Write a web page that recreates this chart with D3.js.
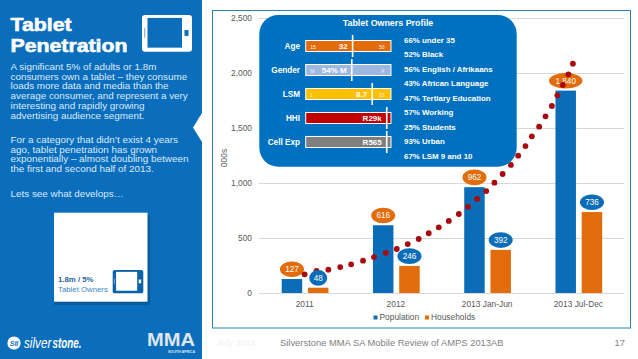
<!DOCTYPE html>
<html>
<head>
<meta charset="utf-8">
<script src="https://cdn.jsdelivr.net/npm/d3@7"></script>
<style>
 html, body { margin: 0; padding: 0; background: #fff; }
 svg { display: block; font-family: "Liberation Sans", Arial, sans-serif; }
 .grid line { stroke: #d9d9d9; stroke-width: 1; }
 .grid text { fill: #595959; font-size: 8.4px; }
</style>
</head>
<body>
<svg id="slide" width="638" height="359"></svg>
<script>
 // chart data
 const categories = ["2011", "2012", "2013 Jan-Jun", "2013 Jul-Dec"];
 const seriesNames = ["Population", "Households"];
 const population = [127, 616, 962, 1840];
 const households = [48, 246, 392, 736];
 const yTicks = [0, 500, 1000, 1500, 2000, 2500];

 // dotted trend, x is in category widths from the left of the plot
 const trendX = [0.50, 0.63, 0.76, 0.89, 1.01, 1.14, 1.26, 1.39, 1.51, 1.63, 1.75, 1.86, 1.97, 2.08, 2.19, 2.29,
                 2.39, 2.49, 2.58, 2.67, 2.76, 2.84, 2.92, 2.99, 3.07, 3.14, 3.21, 3.27, 3.33, 3.39, 3.44];
 const trendY = [170, 200, 212, 236, 261, 294, 327, 364, 400, 445, 491, 543, 597, 655, 718, 785,
                 855, 927, 1003, 1082, 1164, 1248, 1336, 1424, 1512, 1606, 1700, 1797, 1891, 1988, 2085];

 // profile box
 const profileRows = ["Age", "Gender", "LSM", "HHI", "Cell Exp"];
 const profileShare = [0.55, 0.54, 0.78, 0.95, 0.95];
 const profileMid = ["32", "54% M", "8.7", "R29k", "R565"];
 const profileLow = ["15", "M", "1", "", ""];
 const profileHigh = ["50", "F", "10", "", ""];
 const profileColors = ["#e36c0a", "#9db8e0", "#ffc000", "#c00000", "#7f7f7f"];
 const profileFacts = ["66% under 35", "52% Black", "56% English / Afrikaans", "43% African Language",
                       "47% Tertiary Education", "57% Working", "25% Students", "93% Urban", "67% LSM 9 and 10"];

 // side text
 const titleLines = ["Tablet", "Penetration"];
 const bodyOne = ["A significant 5% of adults or 1.8m", "consumers own a tablet \u2013 they consume",
                  "loads more data and media than the", "average consumer, and represent a very",
                  "interesting and rapidly growing", "advertising audience segment."];
 const bodyTwo = ["For a category that didn\u2019t exist 4 years", "ago, tablet penetration has grown",
                  "exponentially \u2013 almost doubling between", "the first and second half of 2013."];
 const bodyThree = ["Lets see what develops\u2026"];

 const blue = "#0b6db7";
 const orange = "#e36c0a";
 const sideBlue = "#0a6ebd";

 let svg = d3.select("svg#slide");

 // sidebar
 let side = svg.append("g").attr("id", "side");
 side.append("rect").attr("width", 202).attr("height", 359).attr("fill", sideBlue);
 side.append("path").attr("d", "M202,113L193,127.5L202,142Z").attr("fill", "#fff");

 side.selectAll("text.title").data(titleLines).join("text")
     .attr("class", "title")
     .attr("transform", (d, i) => `translate(10.5,${30.5 + i * 21.4}) scale(1.12,1)`)
     .attr("fill", "#fff")
     .attr("stroke", "#fff")
     .attr("stroke-width", 0.6)
     .style("font-weight", "bold")
     .style("font-size", "19px")
     .text(d => d);

 function bodyBlock(lines, top) {
     side.append("g").selectAll("text").data(lines).join("text")
         .attr("x", 10.5)
         .attr("y", (d, i) => top + i * 9.7)
         .attr("fill", "#dceafa")
         .style("font-size", "9.9px")
         .text(d => d);
 }
 bodyBlock(bodyOne, 70);
 bodyBlock(bodyTwo, 143);
 bodyBlock(bodyThree, 196.5);

 function drawTablet(g, x, y, w, h, body, screen) {
     let t = g.append("g").attr("transform", `translate(${x},${y})`);
     t.append("rect").attr("width", w).attr("height", h).attr("rx", w * 0.06).attr("fill", body);
     t.append("rect").attr("x", w * 0.11).attr("y", h * 0.08).attr("width", w * 0.69).attr("height", h * 0.81).attr("fill", screen);
     t.append("rect").attr("x", w * 0.85).attr("y", h * 0.41).attr("width", w * 0.08).attr("height", h * 0.16).attr("fill", screen);
     t.append("rect").attr("x", w * 0.04).attr("y", h * 0.36).attr("width", w * 0.025).attr("height", h * 0.26).attr("fill", "#9fb4c8");
 }
 drawTablet(side, 142, 15, 50, 36.7, "#fff", sideBlue);

 // white card
 side.append("rect").attr("x", 54).attr("y", 215).attr("width", 96).attr("height", 90).attr("fill", "#0a5a9c");
 side.append("rect").attr("x", 54).attr("y", 212.7).attr("width", 93.5).attr("height", 89).attr("fill", "#fff");
 side.append("text").attr("x", 58).attr("y", 281.5).attr("fill", "#1f5f9e").style("font-size", "7.8px").style("font-weight", "bold").text("1.8m / 5%");
 side.append("text").attr("x", 58).attr("y", 291.5).attr("fill", "#3d86c6").style("font-size", "7.8px").text("Tablet Owners");
 drawTablet(side, 112.7, 270, 30.6, 23.3, "#0a62a8", "#fff");

 // logos
 side.append("circle").attr("cx", 14).attr("cy", 343).attr("r", 6.6).attr("fill", "#fff");
 side.append("text").attr("x", 14).attr("y", 345.5).attr("text-anchor", "middle").attr("fill", sideBlue)
     .style("font-size", "7px").style("font-weight", "bold").style("font-style", "italic").text("SII");
 side.append("text").attr("transform", "translate(24,348) scale(0.78,1)").attr("fill", "#fff")
     .style("font-size", "15px").style("font-style", "italic").text("silver");
 side.append("text").attr("transform", "translate(52.5,348) scale(0.66,1)").attr("fill", "#fff")
     .style("font-size", "15px").style("font-style", "italic").style("font-weight", "bold").text("stone.");
 side.append("text").attr("x", 147).attr("y", 346).attr("fill", "#dfe6ee")
     .attr("textLength", 48).attr("lengthAdjust", "spacingAndGlyphs")
     .style("font-size", "19px").style("font-weight", "bold").text("MMA");
 side.append("text").attr("x", 195).attr("y", 353).attr("text-anchor", "end").attr("fill", "#dfe6ee")
     .style("font-size", "3.6px").style("font-weight", "bold").text("SOUTH AFRICA");

 // chart frame
 svg.append("rect").attr("x", 212.5).attr("y", 10.5).attr("width", 418).attr("height", 317.5)
     .attr("fill", "#fff").attr("stroke", "#2f7fae").attr("stroke-width", 1);

 const plot = {left: 259, right: 624, top: 18, bottom: 293};

 const yScale = d3.scaleLinear().domain([0, 2500]).range([plot.bottom, plot.top]);
 const xScale = d3.scaleBand().domain(categories).range([plot.left, plot.right]);
 const xSub = d3.scaleBand().domain(seriesNames)
                 .range([xScale.bandwidth() * 0.249, xScale.bandwidth() * 0.761])
                 .paddingInner(0.22);
 const trendScale = d3.scaleLinear().domain([0, 4]).range([plot.left, plot.right]);
 const colorScale = d3.scaleOrdinal().domain(seriesNames).range([blue, orange]);

 let leftAxis = d3.axisLeft(yScale)
                  .tickValues(yTicks)
                  .tickSize(-(plot.right - plot.left))
                  .tickPadding(7)
                  .tickFormat(d3.format(","));
 svg.append("g").attr("class", "grid")
    .attr("transform", `translate(${plot.left},0)`)
    .call(leftAxis)
    .call(g => g.select(".domain").remove());

 let bottomAxis = d3.axisBottom(xScale).tickSize(0).tickPadding(8);
 svg.append("g").attr("class", "grid")
    .attr("transform", `translate(0,${plot.bottom})`)
    .call(bottomAxis)
    .call(g => g.select(".domain").remove());

 svg.append("text")
    .attr("transform", "translate(227,158) rotate(-90)")
    .attr("text-anchor", "middle")
    .attr("fill", "#595959")
    .style("font-size", "8.4px")
    .text("000s");

 // bars
 let rows = categories.map((c, i) => [
     {cat: c, name: seriesNames[0], value: population[i]},
     {cat: c, name: seriesNames[1], value: households[i]}
 ]).flat();

 svg.append("g").attr("id", "bars").selectAll("rect").data(rows).join("rect")
    .attr("x", d => xScale(d.cat) + xSub(d.name))
    .attr("y", d => yScale(d.value))
    .attr("width", xSub.bandwidth())
    .attr("height", d => plot.bottom - yScale(d.value))
    .attr("fill", d => colorScale(d.name));

 function drawBubbles(data, fill) {
     let g = svg.append("g").selectAll("g").data(data).join("g")
         .attr("transform", d => `translate(${xScale(d.cat) + xSub(d.name) + xSub.bandwidth() / 2},${yScale(d.value) - 9.8})`);
     g.append("ellipse")
         .attr("rx", d => d.value >= 1000 ? 16.7 : d.value < 100 ? 9 : 12)
         .attr("ry", 7.8)
         .attr("fill", fill);
     g.append("text")
         .attr("text-anchor", "middle")
         .attr("y", 2.9)
         .attr("fill", "#fff")
         .style("font-size", "8.2px")
         .text(d => d3.format(",")(d.value));
 }

 // orange labels sit under the dots, blue labels on top of them
 drawBubbles(rows.filter(d => d.name === seriesNames[0]), orange);

 svg.append("g").attr("id", "trend").selectAll("circle").data(trendX).join("circle")
    .attr("cx", d => trendScale(d))
    .attr("cy", (d, i) => yScale(trendY[i]))
    .attr("r", 2.9)
    .attr("fill", "#a90a0f");

 drawBubbles(rows.filter(d => d.name === seriesNames[1]), blue);

 // legend
 let legendX = [373.5, 425];
 let legend = svg.append("g").selectAll("g").data(seriesNames).join("g")
     .attr("transform", (d, i) => `translate(${legendX[i]},320)`);
 legend.append("rect").attr("y", -4.5).attr("width", 4).attr("height", 4).attr("fill", d => colorScale(d));
 legend.append("text").attr("x", 6).attr("fill", "#595959").style("font-size", "8.4px").text(d => d);

 // profile box
 let profile = svg.append("g").attr("id", "profile");
 profile.append("rect").attr("x", 259.3).attr("y", 15).attr("width", 257.4).attr("height", 151.7).attr("rx", 19).attr("fill", "#0070c0");
 profile.append("text").attr("x", 388).attr("y", 26).attr("text-anchor", "middle").attr("fill", "#fff")
        .style("font-size", "8.9px").style("font-weight", "bold").text("Tablet Owners Profile");

 const rowScale = d3.scaleBand().domain(profileRows).range([40.5, 147.5]).paddingInner(0.54);
 const shareScale = d3.scaleLinear().domain([0, 1]).range([305.7, 391]);

 let pRow = profile.selectAll("g.row").data(profileRows).join("g").attr("class", "row")
     .attr("transform", d => `translate(0,${rowScale(d)})`);
 pRow.append("rect")
     .attr("x", shareScale(0)).attr("width", shareScale(1) - shareScale(0)).attr("height", rowScale.bandwidth())
     .attr("fill", (d, i) => profileColors[i]).attr("stroke", "#fff").attr("stroke-width", 1);
 pRow.append("line")
     .attr("x1", (d, i) => shareScale(profileShare[i])).attr("x2", (d, i) => shareScale(profileShare[i]))
     .attr("y1", -5.5).attr("y2", rowScale.bandwidth() + 5.5)
     .attr("stroke", "#fff").attr("stroke-width", 1.6);
 pRow.append("text").attr("x", 300).attr("y", 8.5).attr("text-anchor", "end").attr("fill", "#fff")
     .style("font-size", "8.2px").style("font-weight", "bold").text(d => d);
 pRow.append("text").attr("x", (d, i) => shareScale(profileShare[i]) - 5).attr("y", 8.5).attr("text-anchor", "end").attr("fill", "#fff")
     .style("font-size", "8px").style("font-weight", "bold").text((d, i) => profileMid[i]);
 pRow.append("text").attr("x", shareScale(0) + 4.5).attr("y", 8.5).attr("fill", "#f3f3f3")
     .style("font-size", "5px").text((d, i) => profileLow[i]);
 pRow.append("text").attr("x", shareScale(1) - 6.5).attr("y", 8.5).attr("text-anchor", "end").attr("fill", "#f3f3f3")
     .style("font-size", "5px").text((d, i) => profileHigh[i]);

 profile.append("g").selectAll("text").data(profileFacts).join("text")
        .attr("x", 404)
        .attr("y", (d, i) => 42.8 + i * 14.5)
        .attr("fill", "#fff")
        .style("font-size", "7.9px")
        .style("font-weight", "bold")
        .text(d => d);

 // footer
 svg.append("text").attr("x", 217).attr("y", 345.5).attr("fill", "#f0f0f0").style("font-size", "9px").text("July 2014");
 svg.append("text").attr("x", 280).attr("y", 345.5).attr("fill", "#7f7f7f").style("font-size", "9.4px").text("Silverstone MMA SA Mobile Review of AMPS 2013AB");
 svg.append("text").attr("x", 625).attr("y", 345.5).attr("text-anchor", "end").attr("fill", "#7f7f7f").style("font-size", "9.4px").text("17");
</script>
</body>
</html>
